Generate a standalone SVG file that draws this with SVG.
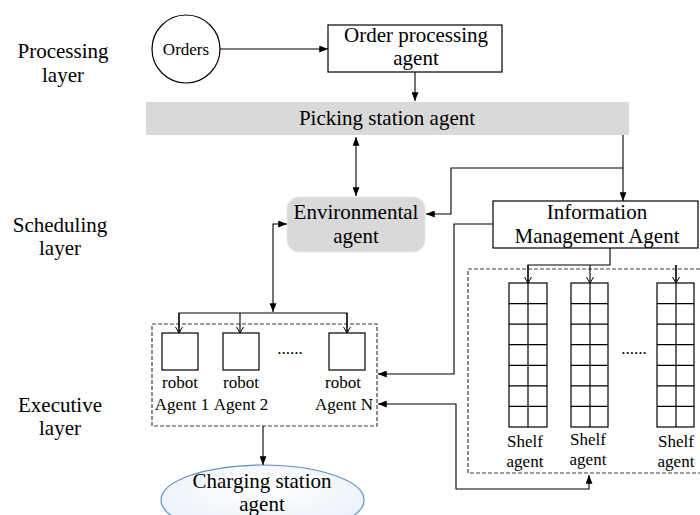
<svg xmlns="http://www.w3.org/2000/svg" width="700" height="515" viewBox="0 0 700 515">
<defs>
<style>
text{font-family:"Liberation Serif","Times New Roman",serif;fill:#000;text-anchor:middle}
.big{font-size:21px}
.sm{font-size:17px}
.box{fill:#fff;stroke:#000;stroke-width:1.2}
.grey{fill:#d9d9d9;stroke:none}
.dash{fill:none;stroke:#404040;stroke-width:1.2;stroke-dasharray:4 2}
.ln{fill:none;stroke:#000;stroke-width:1.1}
.grid{fill:#fff;stroke:#000;stroke-width:1.2}
</style>
<marker id="ah" viewBox="0 0 10 8" refX="10" refY="4" markerWidth="9" markerHeight="7" markerUnits="userSpaceOnUse" orient="auto-start-reverse">
<path d="M0,0 L10,4 L0,8 Z" fill="#000"/>
</marker>
<marker id="open" viewBox="0 0 8 8" refX="7" refY="4" markerWidth="8" markerHeight="8" markerUnits="userSpaceOnUse" orient="auto">
<path d="M1,0.5 L7,4 L1,7.5" fill="none" stroke="#000" stroke-width="1"/>
</marker>
<radialGradient id="cg" cx="0.5" cy="0.35" r="0.75">
<stop offset="0" stop-color="#ffffff"/>
<stop offset="1" stop-color="#e6eef8"/>
</radialGradient>
</defs>
<rect width="700" height="515" fill="#fff"/>

<g id="layer-labels">
<text class="big" x="63" y="58">Processing</text>
<text class="big" x="63" y="82">layer</text>
<text class="big" x="60" y="232">Scheduling</text>
<text class="big" x="60" y="255">layer</text>
<text class="big" x="60" y="412">Executive</text>
<text class="big" x="60" y="435">layer</text>
</g>

<g id="orders">
<circle cx="186" cy="49" r="34" fill="#fff" stroke="#000" stroke-width="1.2"/>
<text class="sm" x="186" y="55">Orders</text>
</g>

<g id="order-processing-agent">
<rect class="box" x="328" y="25" width="174" height="47"/>
<text class="big" x="416" y="42">Order processing</text>
<text class="big" x="416" y="65">agent</text>
</g>

<g id="picking-station-agent">
<rect class="grey" x="146" y="102" width="483" height="33"/>
<text class="big" x="387" y="125">Picking station agent</text>
</g>

<g id="environmental-agent">
<rect x="287" y="197" width="138" height="55" rx="12" fill="#d9d9d9" stroke="#e6e6e6" stroke-width="1"/>
<text class="big" x="356" y="219">Environmental</text>
<text class="big" x="356" y="243">agent</text>
</g>

<g id="information-management-agent">
<rect class="box" x="493" y="201" width="205" height="47"/>
<text class="big" x="597" y="219">Information</text>
<text class="big" x="597" y="243">Management Agent</text>
</g>

<g id="robot-agents">
<rect class="dash" x="152" y="324" width="225" height="102"/>
<rect class="box" x="162" y="333" width="36" height="37"/>
<rect class="box" x="223" y="333" width="36" height="37"/>
<rect class="box" x="329" y="333" width="36" height="37"/>
<text class="sm" x="290" y="354">......</text>
<text class="sm" x="180" y="388">robot</text>
<text class="sm" x="182" y="410">Agent 1</text>
<text class="sm" x="241" y="388">robot</text>
<text class="sm" x="241" y="410">Agent 2</text>
<text class="sm" x="343" y="388">robot</text>
<text class="sm" x="344" y="410">Agent N</text>
</g>

<g id="shelf-agents">
<rect class="dash" x="468" y="269" width="240" height="204"/>
<g id="shelf-1">
<rect class="grid" x="509" y="283" width="38" height="144"/>
<path class="grid" d="M528,283V427M509,303.6H547M509,324.1H547M509,344.7H547M509,365.3H547M509,385.9H547M509,406.4H547"/>
<text class="sm" x="525" y="447">Shelf</text>
<text class="sm" x="525" y="467">agent</text>
</g>
<g id="shelf-2">
<rect class="grid" x="571" y="283" width="37" height="144"/>
<path class="grid" d="M590,283V427M571,303.6H608M571,324.1H608M571,344.7H608M571,365.3H608M571,385.9H608M571,406.4H608"/>
<text class="sm" x="588" y="445">Shelf</text>
<text class="sm" x="588" y="465">agent</text>
</g>
<g id="shelf-n">
<rect class="grid" x="657" y="283" width="37" height="144"/>
<path class="grid" d="M676,283V427M657,303.6H694M657,324.1H694M657,344.7H694M657,365.3H694M657,385.9H694M657,406.4H694"/>
<text class="sm" x="676" y="447">Shelf</text>
<text class="sm" x="676" y="467">agent</text>
</g>
<text class="sm" x="634" y="354">......</text>
</g>

<g id="charging-station-agent">
<ellipse cx="262.5" cy="500" rx="101.5" ry="35" fill="url(#cg)" stroke="#5b8fc7" stroke-width="1.2"/>
<text class="big" x="262" y="488">Charging station</text>
<text class="big" x="262" y="511">agent</text>
</g>

<g id="connectors">
<path class="ln" d="M220,49H328" marker-end="url(#ah)"/>
<path class="ln" d="M415,72V101" marker-end="url(#ah)"/>
<path class="ln" d="M356,137V196" marker-start="url(#ah)" marker-end="url(#ah)"/>
<path class="ln" d="M623,135V201" marker-end="url(#ah)"/>
<path class="ln" d="M623,168H451V214H426" marker-end="url(#ah)"/>
<path class="ln" d="M287,224H273V312" marker-start="url(#ah)" marker-end="url(#ah)"/>
<path class="ln" d="M179,333V313H347V333"/>
<path class="ln" d="M179,313V333" marker-end="url(#open)"/>
<path class="ln" d="M240,313V333" marker-end="url(#open)"/>
<path class="ln" d="M347,313V333" marker-end="url(#open)"/>
<path class="ln" d="M493,224H454V374H378" marker-end="url(#ah)"/>
<path class="ln" d="M378,404H456V489H589V475" marker-start="url(#ah)" marker-end="url(#ah)"/>
<path class="ln" d="M610,248V265H528V283M676,265V283"/>
<path class="ln" d="M528,265V283" marker-end="url(#open)"/>
<path class="ln" d="M590,265V283" marker-end="url(#open)"/>
<path class="ln" d="M676,265V283" marker-end="url(#open)"/>
<path class="ln" d="M263,426V465" marker-end="url(#ah)"/>
</g>
</svg>
